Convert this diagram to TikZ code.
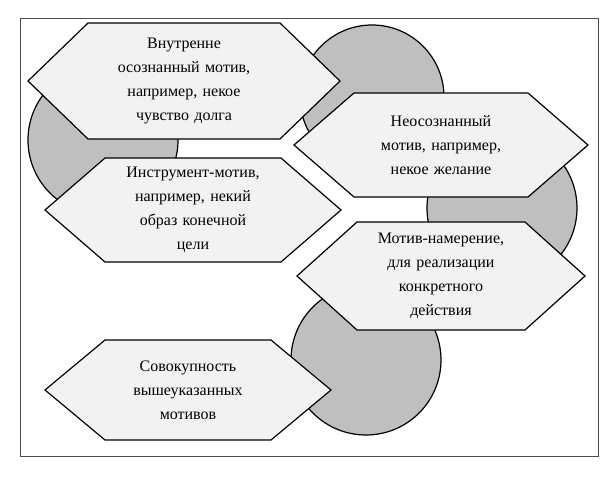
\documentclass[tikz,border=0pt]{standalone}
\usepackage{fontspec}
\setmainfont{Liberation Serif}
\newcommand{\motivhex}[6]{%
  \draw[hexa] (#2-#4,#3) -- (#2-#4+60,#3-#5) -- (#2+#4-60,#3-#5) -- (#2+#4,#3)
    -- (#2+#4-60,#3+#5) -- (#2-#4+60,#3+#5) -- cycle;
  \node[annot] (#1) at (#2,#3) {#6};}

\begin{document}
\begin{tikzpicture}[x=1pt,y=-1pt]
    \tikzstyle{frame}=[draw=black!70,line width=0.6pt]
    \tikzstyle{disc}=[draw=black,line width=1.2pt,fill=black!25]
    \tikzstyle{hexa}=[draw=black,line width=1.2pt,fill=black!5]
    \tikzstyle{annot}=[text width=200pt,align=center,font=\fontsize{16}{24}\selectfont]

    \path[use as bounding box] (0,0) rectangle (614,485);
    \draw[frame] (20,18) rectangle (598,456);

    \draw[disc] (103,140) circle (75);
    \draw[disc] (372,97) circle (72);
    \draw[disc] (502,208) circle (75);
    \draw[disc] (366,360) circle (75);

    \motivhex{inner}{184}{81}{156}{58}{Внутренне\\осознанный мотив,\\например, некое\\чувство долга}
    \motivhex{unconsc}{441}{145}{147}{52}{Неосознанный\\мотив, например,\\некое желание}
    \motivhex{instr}{193}{210}{148}{52}{Инструмент-мотив,\\например, некий\\образ конечной\\цели}
    \motivhex{intent}{441}{276}{144}{54}{Мотив-намерение,\\для реализации\\конкретного\\действия}
    \motivhex{total}{188}{390}{143}{50}{Совокупность\\вышеуказанных\\мотивов}
\end{tikzpicture}
\end{document}
